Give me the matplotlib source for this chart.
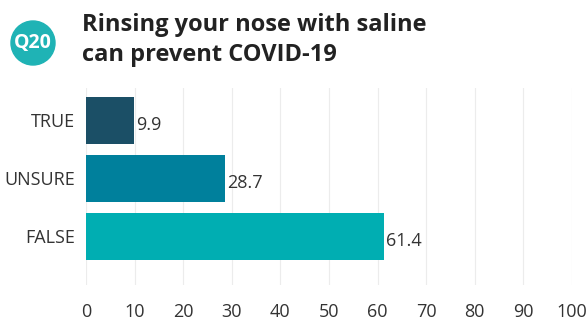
import matplotlib.pyplot as plt
from matplotlib.patches import Ellipse

categories = ["TRUE", "UNSURE", "FALSE"]
values = [9.9, 28.7, 61.4]
colors = ["#1b4f66", "#00809c", "#00aeb2"]
title = "Rinsing your nose with saline\ncan prevent COVID-19"
badge = "Q20"

plt.rcParams['font.family'] = ['Open Sans', 'DejaVu Sans']

fig = plt.figure(figsize=(5.87, 3.25), dpi=100)
ax = fig.add_axes([86/587, 1-285/325, (572-86)/587, (285-88)/325])

ypos = list(range(len(categories)))
ax.barh(ypos, values, height=0.81, color=colors, zorder=2)
for y, v in zip(ypos, values):
    ax.text(v + 0.4, y + 0.08, f"{v}", va='center', ha='left', fontsize=13, color="#333333")

ax.set_xlim(0, 100)
ax.set_ylim(2.845, -0.56)
ax.set_xticks(range(0, 101, 10))
ax.set_yticks(ypos)
ax.set_yticklabels(categories)
ax.tick_params(axis='both', length=0, labelcolor="#333333")
ax.tick_params(axis='x', pad=13, labelsize=13)
ax.tick_params(axis='y', pad=8, labelsize=13)
ax.grid(axis='x', color="#ececec", linewidth=0.8, zorder=0)
for s in ax.spines.values():
    s.set_visible(False)

circ = Ellipse((33/587, 1-43/325), 44/587, 44/325, transform=fig.transFigure, color="#1fb3b5")
fig.patches.append(circ)
fig.text(33/587, 1-43/325, badge, ha='center', va='center', color='white',
         fontsize=14, fontweight='bold')
fig.text(82/587, 1-40/325, title, ha='left', va='center', fontsize=17,
         fontweight='bold', color="#222222", linespacing=1.3)

fig.savefig("out.png", dpi=100)
